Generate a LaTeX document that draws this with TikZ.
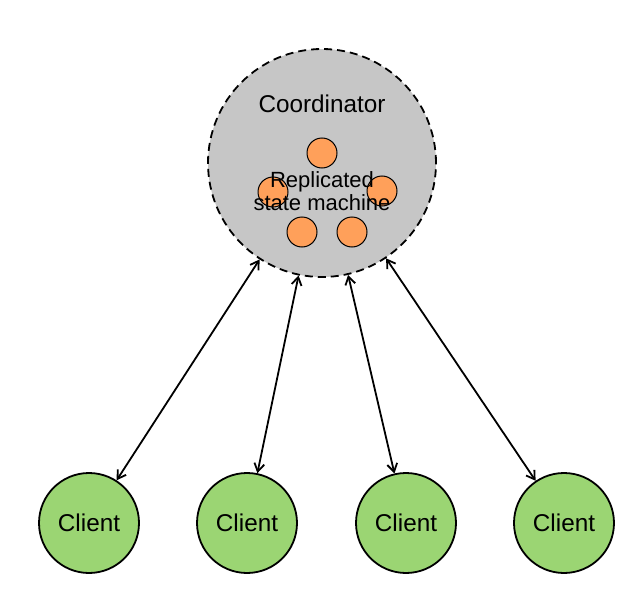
\documentclass[tikz,border=0pt]{standalone}
\usepackage{fontspec}
\setmainfont{Liberation Sans}
\usetikzlibrary{shapes, arrows.meta, positioning}
\definecolor{coordgray}{HTML}{C6C6C6}
\definecolor{replorange}{HTML}{FFA05A}
\definecolor{clientgreen}{HTML}{9BD573}

\begin{document}
\begin{tikzpicture}[x=1pt,y=-1pt,line width=1.8pt,
  client/.style={draw, circle, fill=clientgreen, minimum size=100pt,
    inner sep=0pt, font=\fontsize{24.3}{28}\selectfont},
  replica/.style={draw, circle, fill=replorange, minimum size=30pt,
    inner sep=0pt, line width=1pt},
  link/.style={{Straight Barb[length=8pt,width=10pt]}-{Straight Barb[length=8pt,width=10pt]}}
]
\useasboundingbox (0,0) rectangle (632,594);

\node[draw, circle, dashed,
    dash pattern=on 8pt off 5pt,
    fill=coordgray,
    minimum size=228pt, inner sep=0pt
] (coord) at (322,163) {};
\node[font=\fontsize{24.3}{28}\selectfont] (coordlabel) at (322,104) {Coordinator};

\node[replica] (rep1) at (322,153) {};
\node[replica] (rep2) at (273,192) {};
\node[replica] (rep3) at (382,191) {};
\node[replica] (rep4) at (302,232) {};
\node[replica] (rep5) at (352,232) {};
\node[align=center, font=\fontsize{22}{23.5}\selectfont] (rsm) at (322,191) {Replicated\\state machine};

\node[client] (client1) at (89,523) {Client};
\node[client] (client2) at (247,523) {Client};
\node[client] (client3) at (406,523) {Client};
\node[client] (client4) at (564,523) {Client};

\draw [link] (client1) -- (coord);
\draw [link] (client2) -- (coord);
\draw [link] (client3) -- (coord);
\draw [link] (client4) -- (coord);

\end{tikzpicture}
\end{document}
